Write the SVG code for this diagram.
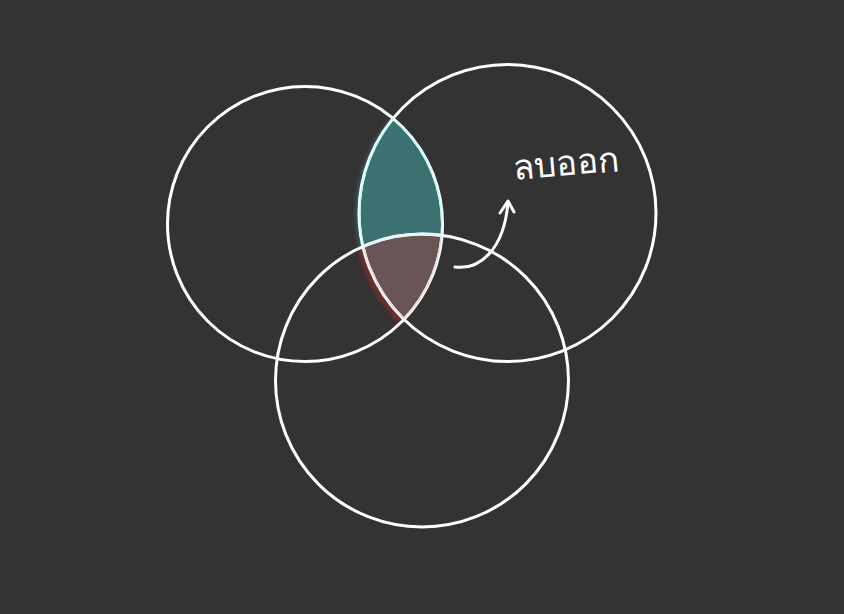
<svg xmlns="http://www.w3.org/2000/svg" width="844" height="614" viewBox="0 0 844 614">
<style>
.c{fill:none;stroke:#ffffff;stroke-width:3}
.lbl{fill:#ffffff;font-family:"Noto Sans","DejaVu Sans",sans-serif;font-size:35px}
</style>
<defs>
<clipPath id="cL"><circle cx="305" cy="224" r="137.5"/></clipPath>
<clipPath id="cR"><circle cx="507.5" cy="213" r="148.5"/></clipPath>
<clipPath id="cB"><circle cx="422" cy="380.5" r="146.5"/></clipPath>
<path id="lens" d="M393,118.4 A148.5,148.5 0 0 0 404,319.4 A137.5,137.5 0 0 0 393,118.4 Z"/>
<filter id="blur" x="-30%" y="-30%" width="160%" height="160%"><feGaussianBlur stdDeviation="2.5"/></filter>
</defs>
<rect width="844" height="614" fill="#333333"/>
<g id="fills">
  <g transform="translate(-3,1)" filter="url(#blur)" opacity="0.8">
    <use href="#lens" fill="#3b6e6e"/>
  </g>
  <g transform="translate(-4,4)" filter="url(#blur)">
    <g clip-path="url(#cB)"><use href="#lens" fill="#7a2626"/></g>
  </g>
  <use href="#lens" fill="#3d7070"/>
  <g clip-path="url(#cB)"><use href="#lens" fill="#6a5556"/></g>
</g>
<g id="circle-left"><circle class="c" cx="305" cy="224" r="137.5"/></g>
<g id="circle-right"><circle class="c" cx="507.5" cy="213" r="148.5"/></g>
<g id="circle-bottom"><circle class="c" cx="422" cy="380.5" r="146.5"/></g>
<g id="lens-edges" clip-path="url(#cL)">
  <g clip-path="url(#cR)">
    <circle cx="305" cy="224" r="137.5" fill="none" stroke="#b8ffff" stroke-width="3"/>
    <circle cx="507.5" cy="213" r="148.5" fill="none" stroke="#b8ffff" stroke-width="3"/>
    <g clip-path="url(#cB)">
      <circle cx="305" cy="224" r="137.5" fill="none" stroke="#f2d6d6" stroke-width="3"/>
      <circle cx="507.5" cy="213" r="148.5" fill="none" stroke="#f2d6d6" stroke-width="3"/>
    </g>
    <circle cx="422" cy="380.5" r="146.5" fill="none" stroke="#e6f6f6" stroke-width="3"/>
  </g>
</g>
<g id="connectors">
  <path d="M455,267 C478,270 504,252 508,202" fill="none" stroke="#ffffff" stroke-width="3" stroke-linecap="round"/>
  <path d="M500,213 L508,201 L514,212" fill="none" stroke="#ffffff" stroke-width="3" stroke-linecap="round" stroke-linejoin="round"/>
</g>
<g id="label">
  <text class="lbl" x="514" y="180" transform="rotate(-5 514 180)">ลบออก</text>
</g>
</svg>
